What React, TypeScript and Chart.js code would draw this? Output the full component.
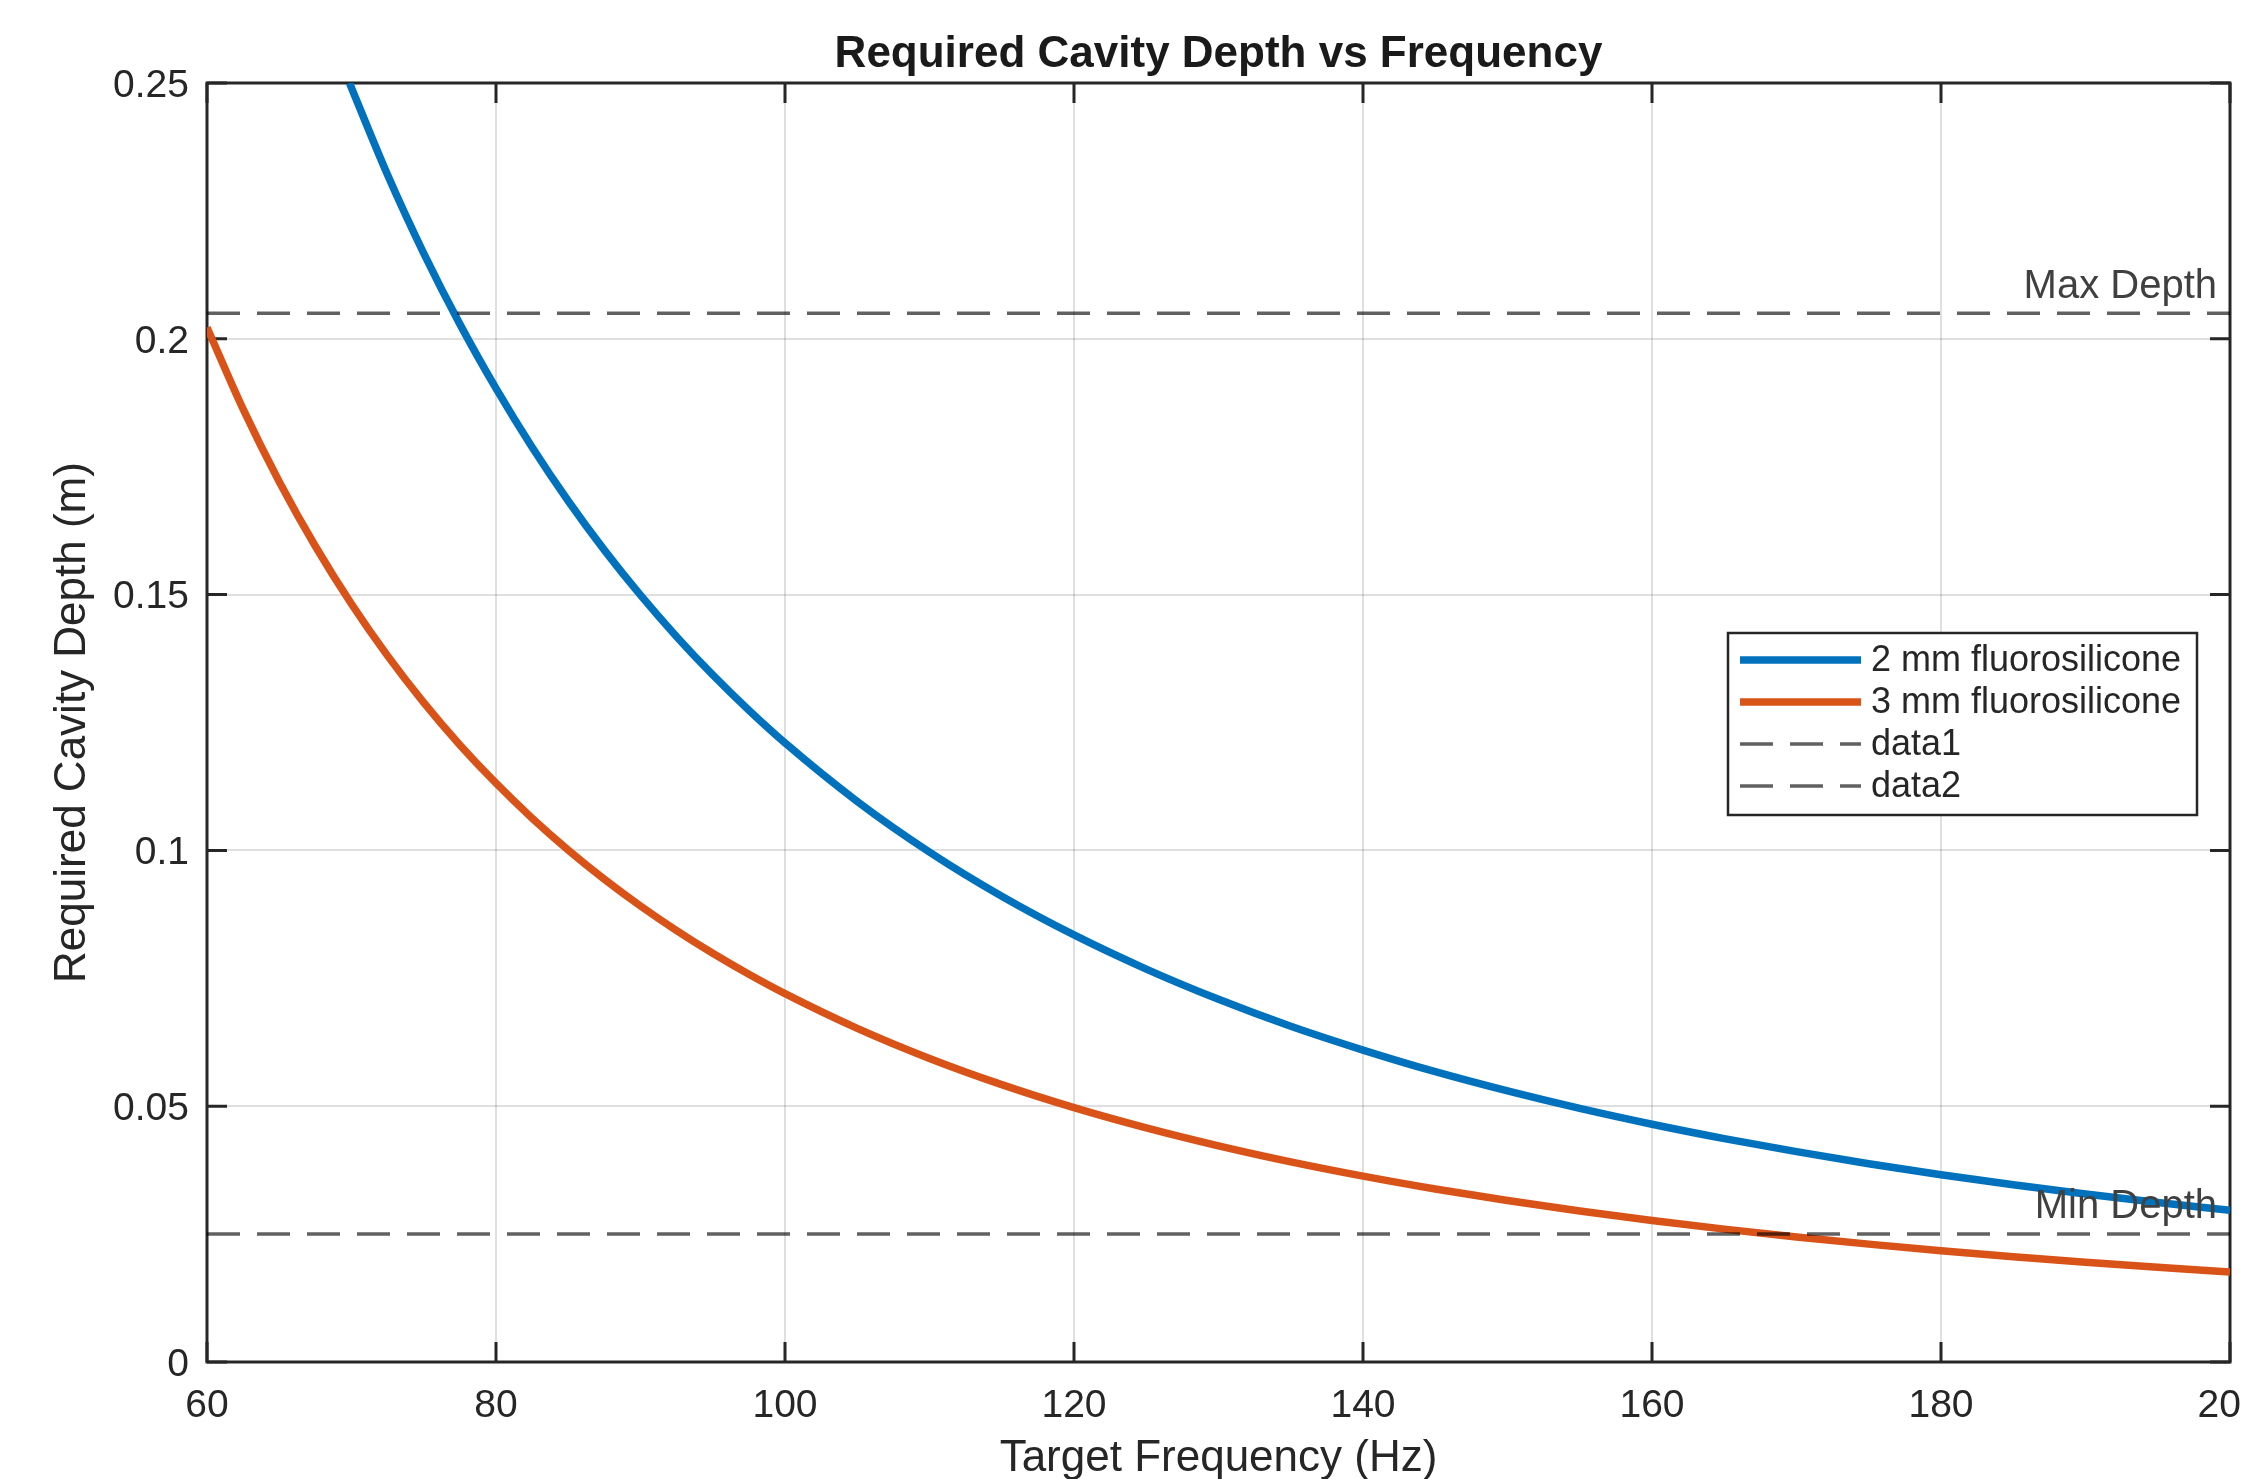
import React, { useEffect, useRef } from "react";
import { Chart, registerables } from "chart.js";

Chart.register(...registerables);

// ---- data ----
const chartTitle = "Required Cavity Depth vs Frequency";
const xAxisTitle = "Target Frequency (Hz)";
const yAxisTitle = "Required Cavity Depth (m)";

const seriesNames = ["2 mm fluorosilicone", "3 mm fluorosilicone", "data1", "data2"];

const freqBlue = [69.86, 72.5, 75, 77.5, 80, 82.5, 85, 87.5, 90, 92.5, 95, 97.5, 100, 105, 110, 115, 120, 125, 130, 135, 140, 145, 150, 155, 160, 165, 170, 175, 180, 185, 190, 195, 200];
const depthBlue = [0.25, 0.23201, 0.21671, 0.20287, 0.19031, 0.17881, 0.1683, 0.15869, 0.14988, 0.14177, 0.13429, 0.12739, 0.121, 0.10957, 0.09967, 0.09104, 0.08347, 0.0768, 0.07089, 0.06562, 0.06097, 0.05674, 0.05298, 0.04957, 0.04648, 0.04367, 0.04111, 0.03876, 0.0366, 0.03465, 0.03285, 0.03119, 0.02965];

const freqOrange = [60, 62.5, 65, 67.5, 70, 72.5, 75, 77.5, 80, 82.5, 85, 87.5, 90, 92.5, 95, 97.5, 100, 105, 110, 115, 120, 125, 130, 135, 140, 145, 150, 155, 160, 165, 170, 175, 180, 185, 190, 195, 200];
const depthOrange = [0.20222, 0.18624, 0.17207, 0.15945, 0.14816, 0.13802, 0.12889, 0.12062, 0.11313, 0.1063, 0.10007, 0.09437, 0.08914, 0.08433, 0.07989, 0.07579, 0.072, 0.06522, 0.05934, 0.05422, 0.04972, 0.04576, 0.04225, 0.03912, 0.03633, 0.03382, 0.03156, 0.02951, 0.02766, 0.02597, 0.02443, 0.02304, 0.02176, 0.02058, 0.0195, 0.01851, 0.0176];

const refLineX = [60, 200];
const maxDepth = 0.205;
const minDepth = 0.025;
const refLabels = ["Max Depth", "Min Depth"];

const xTickValues = [60, 80, 100, 120, 140, 160, 180, 200];
const xTickLabels = ["60", "80", "100", "120", "140", "160", "180", "200"];
const yTickValues = [0, 0.05, 0.1, 0.15, 0.2, 0.25];
const yTickLabels = ["0", "0.05", "0.1", "0.15", "0.2", "0.25"];

// ---- styles ----
const FONT = '"Liberation Sans", Arial, Helvetica, sans-serif';
const AX = "#262626";
const BLUE = "#0072BD";
const ORANGE = "#D95319";
const DASH_COLOR = "rgba(0,0,0,0.62)";
const DASH = [33, 17];
const DASH_W = 3.5;
const CURVE_W = 7.5;

const toPts = (xs: number[], ys: number[]) => xs.map((x, i) => ({ x, y: ys[i] }));

const framePlugin = {
  id: "matlabFrame",
  beforeDatasetsDraw(chart: any) {
    const { ctx, chartArea: a, scales } = chart;
    const xs = scales.x;
    const ys = scales.y;
    const tl = 20;
    ctx.save();
    ctx.strokeStyle = AX;
    ctx.lineWidth = 3;
    ctx.beginPath();
    xs.ticks.forEach((t: any) => {
      const px = xs.getPixelForValue(t.value);
      ctx.moveTo(px, a.bottom);
      ctx.lineTo(px, a.bottom - tl);
      ctx.moveTo(px, a.top);
      ctx.lineTo(px, a.top + tl);
    });
    ys.ticks.forEach((t: any) => {
      const py = ys.getPixelForValue(t.value);
      ctx.moveTo(a.left, py);
      ctx.lineTo(a.left + tl, py);
      ctx.moveTo(a.right, py);
      ctx.lineTo(a.right - tl, py);
    });
    ctx.stroke();
    ctx.strokeRect(a.left, a.top, a.right - a.left, a.bottom - a.top);
    ctx.restore();
  },
  afterDatasetsDraw(chart: any) {
    const { ctx, chartArea: a, scales } = chart;
    const ys = scales.y;
    ctx.save();
    // reference line labels
    ctx.font = `40px ${FONT}`;
    ctx.fillStyle = "#404040";
    ctx.textAlign = "right";
    ctx.textBaseline = "alphabetic";
    ctx.fillText(refLabels[0], a.right - 13, ys.getPixelForValue(maxDepth) - 15);
    ctx.fillText(refLabels[1], a.right - 13, ys.getPixelForValue(minDepth) - 16);

    // title
    ctx.font = `bold 44px ${FONT}`;
    ctx.fillStyle = "#1a1a1a";
    ctx.textAlign = "center";
    ctx.fillText(chartTitle, (a.left + a.right) / 2, a.top - 16);

    // legend
    const lw = 469;
    const lh = 182;
    const lx = a.right - 33 - lw;
    const ly = 633;
    ctx.fillStyle = "#ffffff";
    ctx.fillRect(lx, ly, lw, lh);
    ctx.strokeStyle = AX;
    ctx.lineWidth = 2.5;
    ctx.strokeRect(lx, ly, lw, lh);
    const metas = chart.data.datasets;
    ctx.font = `36px ${FONT}`;
    ctx.textAlign = "left";
    ctx.textBaseline = "middle";
    seriesNames.forEach((name, i) => {
      const ds = metas[i];
      const cy = ly + 27 + i * 42;
      ctx.save();
      ctx.strokeStyle = ds.borderColor;
      ctx.lineWidth = ds.borderWidth;
      ctx.setLineDash(ds.borderDash || []);
      ctx.lineCap = "butt";
      ctx.beginPath();
      ctx.moveTo(lx + 12, cy);
      ctx.lineTo(lx + 133, cy);
      ctx.stroke();
      ctx.restore();
      ctx.fillStyle = AX;
      ctx.fillText(name, lx + 143, cy + 1);
    });
    ctx.restore();
  },
};

export default function App() {
  const ref = useRef<HTMLCanvasElement | null>(null);

  useEffect(() => {
    if (!ref.current) return;
    const chart = new Chart(ref.current, {
      type: "line",
      data: {
        datasets: [
          {
            label: seriesNames[0],
            data: toPts(freqBlue, depthBlue),
            borderColor: BLUE,
            borderWidth: CURVE_W,
            pointRadius: 0,
            cubicInterpolationMode: "monotone",
            fill: false,
            clip: 0,
            order: 2,
          },
          {
            label: seriesNames[1],
            data: toPts(freqOrange, depthOrange),
            borderColor: ORANGE,
            borderWidth: CURVE_W,
            pointRadius: 0,
            cubicInterpolationMode: "monotone",
            fill: false,
            clip: 0,
            order: 1,
          },
          {
            label: seriesNames[2],
            data: refLineX.map((x) => ({ x, y: maxDepth })),
            borderColor: DASH_COLOR,
            borderWidth: DASH_W,
            borderDash: DASH,
            pointRadius: 0,
            fill: false,
            clip: 0,
            order: 0,
          },
          {
            label: seriesNames[3],
            data: refLineX.map((x) => ({ x, y: minDepth })),
            borderColor: DASH_COLOR,
            borderWidth: DASH_W,
            borderDash: DASH,
            pointRadius: 0,
            fill: false,
            clip: 0,
            order: 0,
          },
        ],
      } as any,
      options: {
        responsive: false,
        maintainAspectRatio: false,
        devicePixelRatio: 1,
        animation: false,
        events: [],
        layout: { padding: { top: 83, right: 11, left: 0, bottom: 0 } },
        plugins: {
          legend: { display: false },
          title: { display: false },
          tooltip: { enabled: false },
        },
        scales: {
          x: {
            type: "linear",
            min: 60,
            max: 200,
            afterBuildTicks: (s: any) => {
              s.ticks = xTickValues.map((v) => ({ value: v }));
            },
            afterFit: (s: any) => {
              s.height = 117;
              s.paddingLeft = 0;
              s.paddingRight = 0;
            },
            ticks: {
              autoSkip: false,
              maxRotation: 0,
              padding: 21,
              color: AX,
              font: { family: FONT, size: 39 },
              callback: (v: any) => {
                const i = xTickValues.indexOf(Number(v));
                return i >= 0 ? xTickLabels[i] : "";
              },
            },
            grid: { color: "rgba(38,38,38,0.15)", lineWidth: 2, drawTicks: false },
            border: { display: false },
            title: {
              display: true,
              text: xAxisTitle,
              color: AX,
              font: { family: FONT, size: 44, lineHeight: 0.9 },
              padding: { top: 0, bottom: 0 },
            },
          },
          y: {
            type: "linear",
            min: 0,
            max: 0.25,
            afterBuildTicks: (s: any) => {
              s.ticks = yTickValues.map((v) => ({ value: v }));
            },
            afterFit: (s: any) => {
              s.width = 207;
              s.paddingTop = 0;
              s.paddingBottom = 0;
            },
            ticks: {
              autoSkip: false,
              padding: 18,
              labelOffset: 3,
              color: AX,
              font: { family: FONT, size: 39 },
              callback: (v: any, i: number) => yTickLabels[i] ?? "",
            },
            grid: { color: "rgba(38,38,38,0.15)", lineWidth: 2, drawTicks: false },
            border: { display: false },
            title: {
              display: true,
              text: yAxisTitle,
              color: AX,
              font: { family: FONT, size: 44, lineHeight: 1 },
              padding: { top: 51, bottom: 0 },
            },
          },
        },
      } as any,
      plugins: [framePlugin],
    });
    return () => chart.destroy();
  }, []);

  return (
    <div style={{ position: "absolute", left: 0, top: 0, width: 2241, height: 1479, background: "#ffffff" }}>
      <canvas ref={ref} width={2241} height={1479} style={{ width: 2241, height: 1479, display: "block" }} />
    </div>
  );
}
